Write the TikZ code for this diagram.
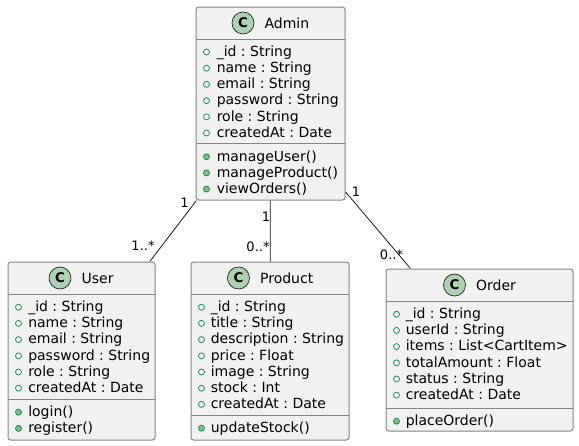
\documentclass[tikz,border=0pt]{standalone}
\usepackage{fontspec}
\setmainfont{DejaVu Sans}
\frenchspacing
\usetikzlibrary{positioning,fit}

\definecolor{boxfill}{HTML}{F1F1F1}
\definecolor{boxline}{HTML}{858585}
\definecolor{darkline}{HTML}{181818}
\definecolor{iconfill}{HTML}{ADD1B2}
\definecolor{markline}{HTML}{038048}
\definecolor{markfill}{HTML}{84BE84}

\tikzset{
    classbox/.style={draw=boxline,fill=boxfill,line width=0.75pt,rounded corners=2pt,inner sep=0pt},
    classicon/.style={circle,draw=darkline,fill=iconfill,line width=0.5pt,minimum size=16.5pt,inner sep=0pt,font=\fontsize{10}{12}\selectfont\bfseries},
    classname/.style={inner sep=0pt,font=\fontsize{10.5}{12}\selectfont},
    member/.style={anchor=base west,inner sep=0pt,font=\fontsize{10.5}{12}\selectfont},
    fieldmark/.style={draw=markline,line width=0.5pt},
    methodmark/.style={draw=markline,fill=markfill,line width=0.5pt},
    sepline/.style={draw=boxline,line width=0.75pt},
    assoc/.style={draw=darkline,line width=0.6pt},
    mult/.style={inner sep=0pt,font=\fontsize{9.75}{11}\selectfont}
}

\begin{document}
\begin{tikzpicture}[x=0.75pt,y=-0.75pt]
    \useasboundingbox (0,0) rectangle (579,446);

    % Admin
    \node (admin) [classbox,fit={(196,7) (345,200)}] {};
    \draw[sepline] (196,39) -- (345,39);
    \draw[sepline] (196,143) -- (345,143);
    \node (admin-c) [classicon] at (243,23) {C};
    \node (admin-name) [classname,right=7.5pt of admin-c] {Admin};
    \foreach \txt [count=\i from 0] in {\_id : String,name : String,email : String,password : String,role : String,createdAt : Date}
    {
        \draw[fieldmark] (206.5,{56.3+16.2*\i-4.3}) circle (2.25pt);
        \node (admin-a\i) [member] at (216.5,{56.3+16.2*\i}) {\txt};
    }
    \foreach \txt [count=\i from 0] in {manageUser(),manageProduct(),viewOrders()}
    {
        \draw[methodmark] (206.5,{161+16.2*\i-4.3}) circle (2.25pt);
        \node (admin-m\i) [member] at (216.5,{161+16.2*\i}) {\txt};
    }

    % User
    \node (user) [classbox,fit={(8,262) (155,440)}] {};
    \draw[sepline] (8,294) -- (155,294);
    \draw[sepline] (8,399) -- (155,399);
    \node (user-c) [classicon] at (60,278) {C};
    \node (user-name) [classname,right=7.5pt of user-c] {User};
    \foreach \txt [count=\i from 0] in {\_id : String,name : String,email : String,password : String,role : String,createdAt : Date}
    {
        \draw[fieldmark] (18.5,{311.5+16.2*\i-4.3}) circle (2.25pt);
        \node (user-a\i) [member] at (28,{311.5+16.2*\i}) {\txt};
    }
    \foreach \txt [count=\i from 0] in {login(),register()}
    {
        \draw[methodmark] (18.5,{416.5+16.2*\i-4.3}) circle (2.25pt);
        \node (user-m\i) [member] at (28,{416.5+16.2*\i}) {\txt};
    }

    % Product
    \node (product) [classbox,fit={(191,262) (349,440)}] {};
    \draw[sepline] (191,294) -- (349,294);
    \draw[sepline] (191,415) -- (349,415);
    \node (product-c) [classicon] at (238.5,278) {C};
    \node (product-name) [classname,right=7.5pt of product-c] {Product};
    \foreach \txt [count=\i from 0] in {\_id : String,title : String,description : String,price : Float,image : String,stock : Int,createdAt : Date}
    {
        \draw[fieldmark] (201.5,{311.5+16.2*\i-4.3}) circle (2.25pt);
        \node (product-a\i) [member] at (210.5,{311.5+16.2*\i}) {\txt};
    }
    \draw[methodmark] (201.5,{432.5-4.3}) circle (2.25pt);
    \node (product-m0) [member] at (210.5,432.5) {updateStock()};

    % Order
    \node (order) [classbox,fit={(386,269) (573,431)}] {};
    \draw[sepline] (386,301) -- (573,301);
    \draw[sepline] (386,408) -- (573,408);
    \node (order-c) [classicon] at (454.5,285) {C};
    \node (order-name) [classname,right=7.5pt of order-c] {Order};
    \foreach \txt [count=\i from 0] in {\_id : String,userId : String,items : List<CartItem>,totalAmount : Float,status : String,createdAt : Date}
    {
        \draw[fieldmark] (396.5,{318.5+16.2*\i-4.3}) circle (2.25pt);
        \node (order-a\i) [member] at (405.5,{318.5+16.2*\i}) {\txt};
    }
    \draw[methodmark] (396.5,{425.5-4.3}) circle (2.25pt);
    \node (order-m0) [member] at (405.5,425.5) {placeOrder()};

    % associations
    \draw[assoc] (admin) -- (user);
    \draw[assoc] (admin) -- (product);
    \draw[assoc] (admin) -- (order);
    \node (m-au1) [mult] at (184.5,202.5) {1};
    \node (m-au2) [mult] at (143,246) {1..*};
    \node (m-ap1) [mult] at (266,217) {1};
    \node (m-ap2) [mult] at (258,246.5) {0..*};
    \node (m-ao1) [mult] at (356,192) {1};
    \node (m-ao2) [mult] at (391.5,255) {0..*};
\end{tikzpicture}
\end{document}
